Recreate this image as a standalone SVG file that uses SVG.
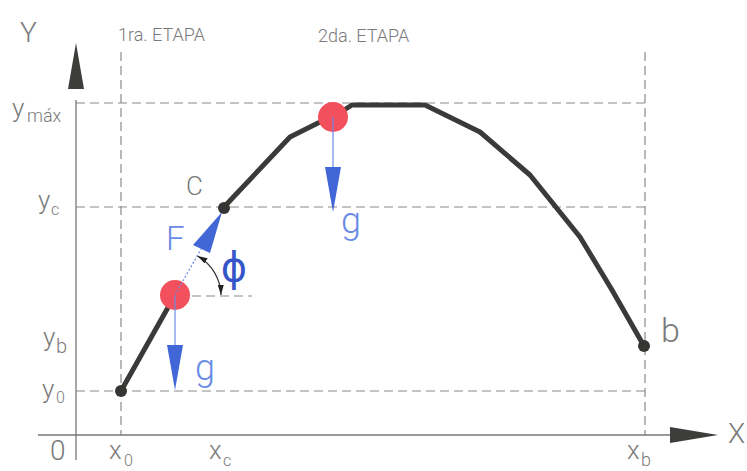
<svg xmlns="http://www.w3.org/2000/svg" width="747" height="471" viewBox="0 0 747 471">
<style>
.t{font-family:Roboto,"Liberation Sans",sans-serif;font-weight:300;fill:#7a7a7a}
.b{font-family:Roboto,"Liberation Sans",sans-serif;font-weight:300;fill:#6a8be6}
.axis{stroke:#777;stroke-width:1.3;fill:none}
.dash{stroke:#8a8a8a;stroke-width:1.2;stroke-dasharray:9 5;fill:none}
.curve{stroke:#3a3a38;stroke-width:5;fill:none;stroke-linejoin:round;stroke-linecap:round}
.dot{fill:#353533}
.ball{fill:#f2505c}
.gline{stroke:#6a8be6;stroke-width:1.2}
.tri{fill:#4266d6}
</style>
<defs>
<marker id="ah" viewBox="0 0 10 6" refX="10" refY="3" markerWidth="10" markerHeight="6" markerUnits="userSpaceOnUse" orient="auto-start-reverse">
<path d="M0,0 L10,3 L0,6 Z" fill="#222"/>
</marker>
</defs>
<rect width="747" height="471" fill="#fff"/>

<g id="guides">
<line class="dash" x1="121" y1="52" x2="121" y2="435"/>
<line class="dash" x1="645" y1="52" x2="645" y2="435"/>
<line class="dash" x1="76" y1="103" x2="645" y2="103"/>
<line class="dash" x1="76" y1="207" x2="645" y2="207"/>
<line class="dash" x1="76" y1="391" x2="645" y2="391"/>
<line class="dash" x1="178" y1="296" x2="252" y2="296"/>
</g>

<g id="axes">
<line class="axis" x1="76" y1="100" x2="76" y2="460"/>
<polygon points="76,43 84,89 68,89" fill="#3d3d3b"/>
<line class="axis" x1="38" y1="435" x2="672" y2="435"/>
<polygon points="718,435 670,427 670,443" fill="#3d3d3b"/>
</g>

<g id="trajectory">
<polyline class="curve" points="121,391 175,295"/>
<polyline class="curve" points="224,207 290,137 318,123 333,117 352,105 425,105 480,132 530,175 580,237 612,290 644,346"/>
</g>

<g id="points">
<circle id="p0" class="dot" cx="121" cy="391" r="6"/>
<circle id="pc" class="dot" cx="224" cy="208" r="6"/>
<circle id="pb" class="dot" cx="644" cy="346" r="6"/>
</g>

<g id="ball1">
<circle class="ball" cx="175" cy="295" r="15"/>
</g>
<g id="ball2">
<circle class="ball" cx="333" cy="117" r="15"/>
</g>

<g id="connectors">
<line x1="175" y1="295" x2="201" y2="249" stroke="#6a8be6" stroke-width="1.2" stroke-dasharray="2 2"/>
<polygon class="tri" points="222,212 193,245 210,253"/>
<line class="gline" x1="175" y1="296" x2="175" y2="345"/>
<polygon class="tri" points="167,345 183,345 175,390"/>
<line class="gline" x1="333" y1="117" x2="333" y2="167"/>
<polygon class="tri" points="325,167 341,167 333,212"/>
<path d="M197.5,256 A46,46 0 0,1 221,295" fill="none" stroke="#333" stroke-width="1.2" marker-start="url(#ah)" marker-end="url(#ah)"/>
</g>

<g id="labels">
<text class="t" x="20" y="42" font-size="28">Y</text>
<text class="t" x="728" y="443" font-size="28">X</text>
<text class="t" x="118" y="41" font-size="18">1ra. ETAPA</text>
<text class="t" x="318" y="42" font-size="18">2da. ETAPA</text>
<text class="t" x="12" y="117" font-size="26">y</text>
<text class="t" x="27" y="122" font-size="18">máx</text>
<text class="t" x="38" y="209" font-size="26">y</text>
<text class="t" x="51" y="215" font-size="16">c</text>
<text class="t" x="43" y="346" font-size="26">y</text>
<text class="t" x="56" y="353" font-size="20">b</text>
<text class="t" x="42" y="398" font-size="26">y</text>
<text class="t" x="56" y="403" font-size="16">0</text>
<text class="t" x="50" y="460" font-size="28">0</text>
<text class="t" x="109" y="459" font-size="26">x</text>
<text class="t" x="124" y="466" font-size="16">0</text>
<text class="t" x="209" y="459" font-size="26">x</text>
<text class="t" x="223" y="466" font-size="16">c</text>
<text class="t" x="627" y="459" font-size="26">x</text>
<text class="t" x="641" y="466" font-size="18">b</text>
<text class="t" x="661" y="342" font-size="34">b</text>
<text class="t" x="186" y="195" font-size="26">C</text>
<text class="b" x="166" y="250" font-size="33">F</text>
<text class="b" x="195" y="380" font-size="36">g</text>
<text class="b" x="341" y="233" font-size="36">g</text>
<text x="234" y="281" font-size="40" text-anchor="middle" font-family="'DejaVu Sans',sans-serif" fill="#3555c8">ϕ</text>
</g>
</svg>
